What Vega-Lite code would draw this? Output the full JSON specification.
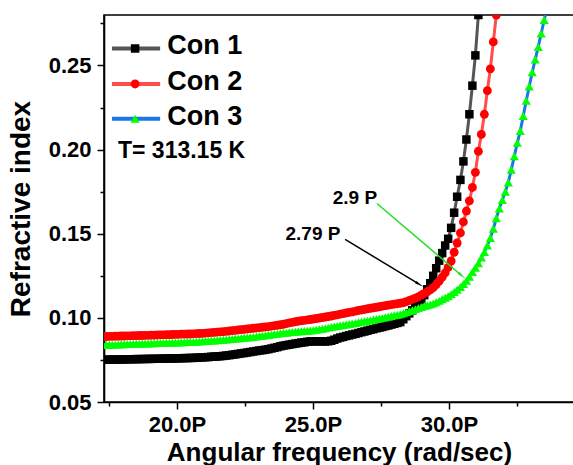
{
"$schema":"https://vega.github.io/schema/vega-lite/v6.json",
"width":470,"height":387,
"autosize":{"type":"none"},
"padding":{"left":104,"top":15,"right":0,"bottom":63},
"background":"white",
"config":{"view":{"stroke":"black","strokeWidth":1.6},"font":"Liberation Sans",
"axis":{"labelFont":"Liberation Sans","titleFont":"Liberation Sans","labelFontWeight":"bold","titleFontWeight":"bold","labelColor":"black","titleColor":"black","domainColor":"black","tickColor":"black","domainWidth":1.6,"tickWidth":1.5,"grid":false,"labelFontSize":22,"titleFontSize":28}},
"datasets":{
"curves":[
{"s":"Con 1","x":17.29,"y":0.0751},{"s":"Con 1","x":17.40,"y":0.0751},{"s":"Con 1","x":17.51,"y":0.0752},{"s":"Con 1","x":17.62,"y":0.0752},{"s":"Con 1","x":17.73,"y":0.0752},{"s":"Con 1","x":17.84,"y":0.0753},{"s":"Con 1","x":17.95,"y":0.0753},{"s":"Con 1","x":18.06,"y":0.0753},{"s":"Con 1","x":18.17,"y":0.0754},{"s":"Con 1","x":18.28,"y":0.0754},
{"s":"Con 1","x":18.39,"y":0.0754},{"s":"Con 1","x":18.50,"y":0.0755},{"s":"Con 1","x":18.61,"y":0.0755},{"s":"Con 1","x":18.72,"y":0.0755},{"s":"Con 1","x":18.83,"y":0.0756},{"s":"Con 1","x":18.94,"y":0.0756},{"s":"Con 1","x":19.05,"y":0.0756},{"s":"Con 1","x":19.16,"y":0.0757},{"s":"Con 1","x":19.28,"y":0.0757},{"s":"Con 1","x":19.39,"y":0.0757},
{"s":"Con 1","x":19.50,"y":0.0758},{"s":"Con 1","x":19.61,"y":0.0758},{"s":"Con 1","x":19.72,"y":0.0759},{"s":"Con 1","x":19.83,"y":0.0759},{"s":"Con 1","x":19.94,"y":0.0759},{"s":"Con 1","x":20.05,"y":0.076},{"s":"Con 1","x":20.16,"y":0.076},{"s":"Con 1","x":20.27,"y":0.0761},{"s":"Con 1","x":20.38,"y":0.0761},{"s":"Con 1","x":20.49,"y":0.0762},
{"s":"Con 1","x":20.60,"y":0.0762},{"s":"Con 1","x":20.71,"y":0.0763},{"s":"Con 1","x":20.82,"y":0.0764},{"s":"Con 1","x":20.93,"y":0.0765},{"s":"Con 1","x":21.04,"y":0.0766},{"s":"Con 1","x":21.15,"y":0.0767},{"s":"Con 1","x":21.26,"y":0.0769},{"s":"Con 1","x":21.37,"y":0.077},{"s":"Con 1","x":21.48,"y":0.0771},{"s":"Con 1","x":21.59,"y":0.0772},
{"s":"Con 1","x":21.70,"y":0.0774},{"s":"Con 1","x":21.81,"y":0.0776},{"s":"Con 1","x":21.92,"y":0.0778},{"s":"Con 1","x":22.03,"y":0.0781},{"s":"Con 1","x":22.14,"y":0.0783},{"s":"Con 1","x":22.25,"y":0.0786},{"s":"Con 1","x":22.36,"y":0.0789},{"s":"Con 1","x":22.47,"y":0.0791},{"s":"Con 1","x":22.58,"y":0.0794},{"s":"Con 1","x":22.69,"y":0.0797},
{"s":"Con 1","x":22.80,"y":0.08},{"s":"Con 1","x":22.92,"y":0.0803},{"s":"Con 1","x":23.03,"y":0.0806},{"s":"Con 1","x":23.14,"y":0.0808},{"s":"Con 1","x":23.25,"y":0.0811},{"s":"Con 1","x":23.36,"y":0.0814},{"s":"Con 1","x":23.47,"y":0.0818},{"s":"Con 1","x":23.58,"y":0.0822},{"s":"Con 1","x":23.69,"y":0.0826},{"s":"Con 1","x":23.80,"y":0.0831},
{"s":"Con 1","x":23.91,"y":0.0835},{"s":"Con 1","x":24.02,"y":0.0838},{"s":"Con 1","x":24.13,"y":0.0841},{"s":"Con 1","x":24.24,"y":0.0844},{"s":"Con 1","x":24.35,"y":0.0847},{"s":"Con 1","x":24.46,"y":0.085},{"s":"Con 1","x":24.57,"y":0.0853},{"s":"Con 1","x":24.68,"y":0.0855},{"s":"Con 1","x":24.79,"y":0.0858},{"s":"Con 1","x":24.90,"y":0.086},
{"s":"Con 1","x":25.01,"y":0.086},{"s":"Con 1","x":25.12,"y":0.0861},{"s":"Con 1","x":25.23,"y":0.0861},{"s":"Con 1","x":25.34,"y":0.086},{"s":"Con 1","x":25.45,"y":0.086},{"s":"Con 1","x":25.56,"y":0.0861},{"s":"Con 1","x":25.67,"y":0.0864},{"s":"Con 1","x":25.78,"y":0.087},{"s":"Con 1","x":25.89,"y":0.0877},{"s":"Con 1","x":26.00,"y":0.0883},
{"s":"Con 1","x":26.11,"y":0.0887},{"s":"Con 1","x":26.22,"y":0.0892},{"s":"Con 1","x":26.33,"y":0.0896},{"s":"Con 1","x":26.44,"y":0.0901},{"s":"Con 1","x":26.56,"y":0.0905},{"s":"Con 1","x":26.67,"y":0.091},{"s":"Con 1","x":26.78,"y":0.0915},{"s":"Con 1","x":26.89,"y":0.0919},{"s":"Con 1","x":27.00,"y":0.0924},{"s":"Con 1","x":27.11,"y":0.0929},
{"s":"Con 1","x":27.22,"y":0.0933},{"s":"Con 1","x":27.33,"y":0.0938},{"s":"Con 1","x":27.44,"y":0.0942},{"s":"Con 1","x":27.55,"y":0.0946},{"s":"Con 1","x":27.66,"y":0.0951},{"s":"Con 1","x":27.77,"y":0.0955},{"s":"Con 1","x":27.88,"y":0.096},{"s":"Con 1","x":27.99,"y":0.0965},{"s":"Con 1","x":28.10,"y":0.097},{"s":"Con 1","x":28.21,"y":0.0975},
{"s":"Con 1","x":28.32,"y":0.0992},{"s":"Con 1","x":28.43,"y":0.101},{"s":"Con 1","x":28.54,"y":0.1027},{"s":"Con 1","x":28.65,"y":0.1045},{"s":"Con 1","x":28.76,"y":0.1065},{"s":"Con 1","x":28.87,"y":0.1085},{"s":"Con 1","x":28.98,"y":0.1108},{"s":"Con 1","x":29.09,"y":0.1135},{"s":"Con 1","x":29.20,"y":0.117},{"s":"Con 1","x":29.31,"y":0.1206},
{"s":"Con 1","x":29.42,"y":0.125},{"s":"Con 1","x":29.53,"y":0.1295},{"s":"Con 1","x":29.64,"y":0.134},{"s":"Con 1","x":29.75,"y":0.1385},{"s":"Con 1","x":29.86,"y":0.143},{"s":"Con 1","x":29.97,"y":0.147},{"s":"Con 1","x":30.08,"y":0.1535},{"s":"Con 1","x":30.19,"y":0.1625},{"s":"Con 1","x":30.30,"y":0.172},{"s":"Con 1","x":30.42,"y":0.182},
{"s":"Con 1","x":30.53,"y":0.193},{"s":"Con 1","x":30.64,"y":0.206},{"s":"Con 1","x":30.75,"y":0.221},{"s":"Con 1","x":30.86,"y":0.238},{"s":"Con 1","x":30.97,"y":0.256},{"s":"Con 1","x":31.08,"y":0.28},
{"s":"Con 2","x":17.29,"y":0.0889},{"s":"Con 2","x":17.40,"y":0.0889},{"s":"Con 2","x":17.51,"y":0.089},{"s":"Con 2","x":17.62,"y":0.089},{"s":"Con 2","x":17.73,"y":0.0891},{"s":"Con 2","x":17.84,"y":0.0891},{"s":"Con 2","x":17.95,"y":0.0892},{"s":"Con 2","x":18.06,"y":0.0892},{"s":"Con 2","x":18.17,"y":0.0893},{"s":"Con 2","x":18.28,"y":0.0893},
{"s":"Con 2","x":18.39,"y":0.0894},{"s":"Con 2","x":18.50,"y":0.0894},{"s":"Con 2","x":18.61,"y":0.0895},{"s":"Con 2","x":18.72,"y":0.0895},{"s":"Con 2","x":18.83,"y":0.0896},{"s":"Con 2","x":18.94,"y":0.0896},{"s":"Con 2","x":19.05,"y":0.0897},{"s":"Con 2","x":19.16,"y":0.0897},{"s":"Con 2","x":19.28,"y":0.0898},{"s":"Con 2","x":19.39,"y":0.0899},
{"s":"Con 2","x":19.50,"y":0.0899},{"s":"Con 2","x":19.61,"y":0.09},{"s":"Con 2","x":19.72,"y":0.09},{"s":"Con 2","x":19.83,"y":0.0901},{"s":"Con 2","x":19.94,"y":0.0902},{"s":"Con 2","x":20.05,"y":0.0902},{"s":"Con 2","x":20.16,"y":0.0903},{"s":"Con 2","x":20.27,"y":0.0903},{"s":"Con 2","x":20.38,"y":0.0904},{"s":"Con 2","x":20.49,"y":0.0904},
{"s":"Con 2","x":20.60,"y":0.0905},{"s":"Con 2","x":20.71,"y":0.0906},{"s":"Con 2","x":20.82,"y":0.0907},{"s":"Con 2","x":20.93,"y":0.0908},{"s":"Con 2","x":21.04,"y":0.0909},{"s":"Con 2","x":21.15,"y":0.0911},{"s":"Con 2","x":21.26,"y":0.0912},{"s":"Con 2","x":21.37,"y":0.0914},{"s":"Con 2","x":21.48,"y":0.0915},{"s":"Con 2","x":21.59,"y":0.0917},
{"s":"Con 2","x":21.70,"y":0.0918},{"s":"Con 2","x":21.81,"y":0.092},{"s":"Con 2","x":21.92,"y":0.0922},{"s":"Con 2","x":22.03,"y":0.0924},{"s":"Con 2","x":22.14,"y":0.0926},{"s":"Con 2","x":22.25,"y":0.0928},{"s":"Con 2","x":22.36,"y":0.093},{"s":"Con 2","x":22.47,"y":0.0932},{"s":"Con 2","x":22.58,"y":0.0934},{"s":"Con 2","x":22.69,"y":0.0936},
{"s":"Con 2","x":22.80,"y":0.0938},{"s":"Con 2","x":22.92,"y":0.094},{"s":"Con 2","x":23.03,"y":0.0942},{"s":"Con 2","x":23.14,"y":0.0944},{"s":"Con 2","x":23.25,"y":0.0946},{"s":"Con 2","x":23.36,"y":0.0948},{"s":"Con 2","x":23.47,"y":0.0951},{"s":"Con 2","x":23.58,"y":0.0954},{"s":"Con 2","x":23.69,"y":0.0956},{"s":"Con 2","x":23.80,"y":0.0959},
{"s":"Con 2","x":23.91,"y":0.0962},{"s":"Con 2","x":24.02,"y":0.0966},{"s":"Con 2","x":24.13,"y":0.097},{"s":"Con 2","x":24.24,"y":0.0973},{"s":"Con 2","x":24.35,"y":0.0977},{"s":"Con 2","x":24.46,"y":0.098},{"s":"Con 2","x":24.57,"y":0.0983},{"s":"Con 2","x":24.68,"y":0.0985},{"s":"Con 2","x":24.79,"y":0.0988},{"s":"Con 2","x":24.90,"y":0.099},
{"s":"Con 2","x":25.01,"y":0.0993},{"s":"Con 2","x":25.12,"y":0.0996},{"s":"Con 2","x":25.23,"y":0.0999},{"s":"Con 2","x":25.34,"y":0.1002},{"s":"Con 2","x":25.45,"y":0.1005},{"s":"Con 2","x":25.56,"y":0.1008},{"s":"Con 2","x":25.67,"y":0.1011},{"s":"Con 2","x":25.78,"y":0.1015},{"s":"Con 2","x":25.89,"y":0.1018},{"s":"Con 2","x":26.00,"y":0.1022},
{"s":"Con 2","x":26.11,"y":0.1025},{"s":"Con 2","x":26.22,"y":0.1029},{"s":"Con 2","x":26.33,"y":0.1033},{"s":"Con 2","x":26.44,"y":0.1036},{"s":"Con 2","x":26.56,"y":0.104},{"s":"Con 2","x":26.67,"y":0.1044},{"s":"Con 2","x":26.78,"y":0.1047},{"s":"Con 2","x":26.89,"y":0.105},{"s":"Con 2","x":27.00,"y":0.1054},{"s":"Con 2","x":27.11,"y":0.1057},
{"s":"Con 2","x":27.22,"y":0.106},{"s":"Con 2","x":27.33,"y":0.1063},{"s":"Con 2","x":27.44,"y":0.1066},{"s":"Con 2","x":27.55,"y":0.107},{"s":"Con 2","x":27.66,"y":0.1073},{"s":"Con 2","x":27.77,"y":0.1076},{"s":"Con 2","x":27.88,"y":0.1079},{"s":"Con 2","x":27.99,"y":0.1082},{"s":"Con 2","x":28.10,"y":0.1084},{"s":"Con 2","x":28.21,"y":0.1087},
{"s":"Con 2","x":28.32,"y":0.109},{"s":"Con 2","x":28.43,"y":0.1096},{"s":"Con 2","x":28.54,"y":0.1103},{"s":"Con 2","x":28.65,"y":0.111},{"s":"Con 2","x":28.76,"y":0.1117},{"s":"Con 2","x":28.87,"y":0.1125},{"s":"Con 2","x":28.98,"y":0.1135},{"s":"Con 2","x":29.09,"y":0.1145},{"s":"Con 2","x":29.20,"y":0.1155},{"s":"Con 2","x":29.31,"y":0.1166},
{"s":"Con 2","x":29.42,"y":0.118},{"s":"Con 2","x":29.53,"y":0.1198},{"s":"Con 2","x":29.64,"y":0.1218},{"s":"Con 2","x":29.75,"y":0.1242},{"s":"Con 2","x":29.86,"y":0.1268},{"s":"Con 2","x":29.97,"y":0.13},{"s":"Con 2","x":30.08,"y":0.1338},{"s":"Con 2","x":30.19,"y":0.139},{"s":"Con 2","x":30.30,"y":0.1445},{"s":"Con 2","x":30.42,"y":0.1505},
{"s":"Con 2","x":30.53,"y":0.157},{"s":"Con 2","x":30.64,"y":0.1635},{"s":"Con 2","x":30.75,"y":0.1695},{"s":"Con 2","x":30.86,"y":0.1775},{"s":"Con 2","x":30.97,"y":0.1865},{"s":"Con 2","x":31.08,"y":0.199},{"s":"Con 2","x":31.19,"y":0.209},{"s":"Con 2","x":31.30,"y":0.221},{"s":"Con 2","x":31.41,"y":0.235},{"s":"Con 2","x":31.52,"y":0.248},
{"s":"Con 2","x":31.63,"y":0.264},{"s":"Con 2","x":31.74,"y":0.28},
{"s":"Con 3","x":17.29,"y":0.0839},{"s":"Con 3","x":17.40,"y":0.084},{"s":"Con 3","x":17.51,"y":0.084},{"s":"Con 3","x":17.62,"y":0.0841},{"s":"Con 3","x":17.73,"y":0.0841},{"s":"Con 3","x":17.84,"y":0.0842},{"s":"Con 3","x":17.95,"y":0.0843},{"s":"Con 3","x":18.06,"y":0.0843},{"s":"Con 3","x":18.17,"y":0.0844},{"s":"Con 3","x":18.28,"y":0.0844},
{"s":"Con 3","x":18.39,"y":0.0845},{"s":"Con 3","x":18.50,"y":0.0846},{"s":"Con 3","x":18.61,"y":0.0846},{"s":"Con 3","x":18.72,"y":0.0847},{"s":"Con 3","x":18.83,"y":0.0847},{"s":"Con 3","x":18.94,"y":0.0848},{"s":"Con 3","x":19.05,"y":0.0849},{"s":"Con 3","x":19.16,"y":0.0849},{"s":"Con 3","x":19.28,"y":0.085},{"s":"Con 3","x":19.39,"y":0.085},
{"s":"Con 3","x":19.50,"y":0.0851},{"s":"Con 3","x":19.61,"y":0.0852},{"s":"Con 3","x":19.72,"y":0.0852},{"s":"Con 3","x":19.83,"y":0.0853},{"s":"Con 3","x":19.94,"y":0.0853},{"s":"Con 3","x":20.05,"y":0.0854},{"s":"Con 3","x":20.16,"y":0.0855},{"s":"Con 3","x":20.27,"y":0.0855},{"s":"Con 3","x":20.38,"y":0.0856},{"s":"Con 3","x":20.49,"y":0.0856},
{"s":"Con 3","x":20.60,"y":0.0857},{"s":"Con 3","x":20.71,"y":0.0858},{"s":"Con 3","x":20.82,"y":0.0859},{"s":"Con 3","x":20.93,"y":0.0861},{"s":"Con 3","x":21.04,"y":0.0862},{"s":"Con 3","x":21.15,"y":0.0863},{"s":"Con 3","x":21.26,"y":0.0865},{"s":"Con 3","x":21.37,"y":0.0866},{"s":"Con 3","x":21.48,"y":0.0867},{"s":"Con 3","x":21.59,"y":0.0869},
{"s":"Con 3","x":21.70,"y":0.087},{"s":"Con 3","x":21.81,"y":0.0872},{"s":"Con 3","x":21.92,"y":0.0873},{"s":"Con 3","x":22.03,"y":0.0875},{"s":"Con 3","x":22.14,"y":0.0877},{"s":"Con 3","x":22.25,"y":0.0878},{"s":"Con 3","x":22.36,"y":0.088},{"s":"Con 3","x":22.47,"y":0.0882},{"s":"Con 3","x":22.58,"y":0.0884},{"s":"Con 3","x":22.69,"y":0.0885},
{"s":"Con 3","x":22.80,"y":0.0887},{"s":"Con 3","x":22.92,"y":0.0889},{"s":"Con 3","x":23.03,"y":0.0892},{"s":"Con 3","x":23.14,"y":0.0894},{"s":"Con 3","x":23.25,"y":0.0896},{"s":"Con 3","x":23.36,"y":0.0899},{"s":"Con 3","x":23.47,"y":0.0901},{"s":"Con 3","x":23.58,"y":0.0904},{"s":"Con 3","x":23.69,"y":0.0906},{"s":"Con 3","x":23.80,"y":0.0909},
{"s":"Con 3","x":23.91,"y":0.0911},{"s":"Con 3","x":24.02,"y":0.0912},{"s":"Con 3","x":24.13,"y":0.0914},{"s":"Con 3","x":24.24,"y":0.0916},{"s":"Con 3","x":24.35,"y":0.0917},{"s":"Con 3","x":24.46,"y":0.0919},{"s":"Con 3","x":24.57,"y":0.092},{"s":"Con 3","x":24.68,"y":0.0922},{"s":"Con 3","x":24.79,"y":0.0924},{"s":"Con 3","x":24.90,"y":0.0925},
{"s":"Con 3","x":25.01,"y":0.0927},{"s":"Con 3","x":25.12,"y":0.093},{"s":"Con 3","x":25.23,"y":0.0933},{"s":"Con 3","x":25.34,"y":0.0936},{"s":"Con 3","x":25.45,"y":0.0939},{"s":"Con 3","x":25.56,"y":0.0942},{"s":"Con 3","x":25.67,"y":0.0946},{"s":"Con 3","x":25.78,"y":0.0949},{"s":"Con 3","x":25.89,"y":0.0952},{"s":"Con 3","x":26.00,"y":0.0955},
{"s":"Con 3","x":26.11,"y":0.0958},{"s":"Con 3","x":26.22,"y":0.0961},{"s":"Con 3","x":26.33,"y":0.0964},{"s":"Con 3","x":26.44,"y":0.0967},{"s":"Con 3","x":26.56,"y":0.097},{"s":"Con 3","x":26.67,"y":0.0974},{"s":"Con 3","x":26.78,"y":0.0977},{"s":"Con 3","x":26.89,"y":0.098},{"s":"Con 3","x":27.00,"y":0.0983},{"s":"Con 3","x":27.11,"y":0.0986},
{"s":"Con 3","x":27.22,"y":0.099},{"s":"Con 3","x":27.33,"y":0.0993},{"s":"Con 3","x":27.44,"y":0.0996},{"s":"Con 3","x":27.55,"y":0.1},{"s":"Con 3","x":27.66,"y":0.1004},{"s":"Con 3","x":27.77,"y":0.1007},{"s":"Con 3","x":27.88,"y":0.1011},{"s":"Con 3","x":27.99,"y":0.1015},{"s":"Con 3","x":28.10,"y":0.1018},{"s":"Con 3","x":28.21,"y":0.1022},
{"s":"Con 3","x":28.32,"y":0.1028},{"s":"Con 3","x":28.43,"y":0.1034},{"s":"Con 3","x":28.54,"y":0.104},{"s":"Con 3","x":28.65,"y":0.1046},{"s":"Con 3","x":28.76,"y":0.1052},{"s":"Con 3","x":28.87,"y":0.1058},{"s":"Con 3","x":28.98,"y":0.1064},{"s":"Con 3","x":29.09,"y":0.107},{"s":"Con 3","x":29.20,"y":0.1075},{"s":"Con 3","x":29.31,"y":0.108},
{"s":"Con 3","x":29.42,"y":0.1085},{"s":"Con 3","x":29.53,"y":0.1093},{"s":"Con 3","x":29.64,"y":0.1101},{"s":"Con 3","x":29.75,"y":0.111},{"s":"Con 3","x":29.86,"y":0.1119},{"s":"Con 3","x":29.97,"y":0.1129},{"s":"Con 3","x":30.08,"y":0.1141},{"s":"Con 3","x":30.19,"y":0.1154},{"s":"Con 3","x":30.30,"y":0.1167},{"s":"Con 3","x":30.42,"y":0.1183},
{"s":"Con 3","x":30.53,"y":0.1201},{"s":"Con 3","x":30.64,"y":0.1221},{"s":"Con 3","x":30.75,"y":0.1245},{"s":"Con 3","x":30.86,"y":0.1272},{"s":"Con 3","x":30.97,"y":0.1298},{"s":"Con 3","x":31.08,"y":0.1325},{"s":"Con 3","x":31.19,"y":0.1358},{"s":"Con 3","x":31.30,"y":0.1392},{"s":"Con 3","x":31.41,"y":0.143},{"s":"Con 3","x":31.52,"y":0.1475},
{"s":"Con 3","x":31.63,"y":0.153},{"s":"Con 3","x":31.74,"y":0.1592},{"s":"Con 3","x":31.85,"y":0.165},{"s":"Con 3","x":31.96,"y":0.17},{"s":"Con 3","x":32.07,"y":0.175},{"s":"Con 3","x":32.18,"y":0.1805},{"s":"Con 3","x":32.29,"y":0.188},{"s":"Con 3","x":32.40,"y":0.196},{"s":"Con 3","x":32.51,"y":0.204},{"s":"Con 3","x":32.62,"y":0.211},
{"s":"Con 3","x":32.73,"y":0.22},{"s":"Con 3","x":32.84,"y":0.229},{"s":"Con 3","x":32.95,"y":0.2375},{"s":"Con 3","x":33.06,"y":0.246},{"s":"Con 3","x":33.17,"y":0.2535},{"s":"Con 3","x":33.28,"y":0.261},{"s":"Con 3","x":33.39,"y":0.269},{"s":"Con 3","x":33.50,"y":0.277},{"s":"Con 3","x":33.61,"y":0.285}
],
"arrows":[{"id":"a1","x":26.18,"y":0.1467,"x2":28.87,"y2":0.1203},{"id":"a2","x":27.35,"y":0.168,"x2":30.44,"y2":0.1255}],
"heads":[{"id":"a1","x":28.87,"y":0.1203},{"id":"a2","x":30.44,"y":0.1255}],
"notes":[{"t":"2.79 P","x":25.0,"y":0.1496},{"t":"2.9 P","x":26.54,"y":0.171}],
"temp":[{"t":"T= 313.15 K","x":17.83,"y":0.1994}],
"legline":[{"s":"Con 1","x":17.61,"x2":19.38,"y":0.2601},{"s":"Con 2","x":17.61,"x2":19.38,"y":0.239},{"s":"Con 3","x":17.61,"x2":19.38,"y":0.2183}],
"legmark":[{"s":"Con 1","x":18.46,"y":0.2601},{"s":"Con 2","x":18.46,"y":0.239},{"s":"Con 3","x":18.46,"y":0.2183}],
"legtext":[{"s":"Con 1","x":19.64,"y":0.2601},{"s":"Con 2","x":19.64,"y":0.239},{"s":"Con 3","x":19.64,"y":0.2183}]
},
"encoding":{
"x":{"field":"x","type":"quantitative","scale":{"domain":[17.316,34.596],"nice":false,"zero":false},
"axis":{"title":"Angular frequency (rad/sec)","values":[17.5,20,22.5,25,27.5,30,32.5],"labelExpr":"datum.value % 5 == 0 ? format(datum.value, '.1f') + 'P' : ''","tickSize":{"condition":{"test":"datum.value % 5 == 0","value":7},"value":4},"labelPadding":5,"titlePadding":4,"titleFontSize":26,"labelFlush":false}},
"y":{"field":"y","type":"quantitative","scale":{"domain":[0.05,0.28],"nice":false,"zero":false},
"axis":{"title":"Refractive index","values":[0.05,0.075,0.1,0.125,0.15,0.175,0.2,0.225,0.25,0.275],"labelExpr":"abs(datum.value*20 - round(datum.value*20)) < 0.000001 ? format(datum.value, '.2f') : ''","tickSize":{"condition":{"test":"abs(datum.value*20 - round(datum.value*20)) < 0.000001","value":7},"value":4},"labelPadding":6,"titlePadding":13,"labelFlush":false}}
},
"layer":[
{"data":{"name":"curves"},"mark":{"type":"line","strokeWidth":3,"clip":true},
 "encoding":{"stroke":{"field":"s","type":"nominal","scale":{"domain":["Con 1","Con 2","Con 3"],"range":["#555555","#ff4d4d","#1a78e6"]},"legend":null}}},
{"data":{"name":"curves"},"mark":{"type":"point","filled":true,"opacity":1,"strokeWidth":0,"clip":true},
 "encoding":{"fill":{"field":"s","type":"nominal","scale":{"domain":["Con 1","Con 2","Con 3"],"range":["#000000","#ff0000","#00ff00"]},"legend":null},
 "shape":{"field":"s","type":"nominal","scale":{"domain":["Con 1","Con 2","Con 3"],"range":["square","circle","triangle-up"]},"legend":null},
 "size":{"field":"s","type":"nominal","scale":{"domain":["Con 1","Con 2","Con 3"],"range":[72,85,125]},"legend":null}}},
{"data":{"name":"arrows"},"transform":[{"filter":"datum.id == 'a1'"}],"mark":{"type":"rule","color":"black","strokeWidth":1.5},
 "encoding":{"x2":{"field":"x2"},"y2":{"field":"y2"}}},
{"data":{"name":"arrows"},"transform":[{"filter":"datum.id == 'a2'"}],"mark":{"type":"rule","color":"#22dd22","strokeWidth":1.5},
 "encoding":{"x2":{"field":"x2"},"y2":{"field":"y2"}}},
{"data":{"name":"heads"},"transform":[{"filter":"datum.id == 'a1'"}],"mark":{"type":"point","shape":"wedge","filled":true,"color":"black","size":110,"angle":121,"opacity":1},"encoding":{}},
{"data":{"name":"heads"},"transform":[{"filter":"datum.id == 'a2'"}],"mark":{"type":"point","shape":"wedge","filled":true,"color":"#22dd22","size":110,"angle":130,"opacity":1},"encoding":{}},
{"data":{"name":"notes"},"mark":{"type":"text","font":"Liberation Sans","fontWeight":"bold","fontSize":19,"color":"black","align":"center","baseline":"middle"},
 "encoding":{"text":{"field":"t"}}},
{"data":{"name":"temp"},"mark":{"type":"text","font":"Liberation Sans","fontWeight":"bold","fontSize":23,"color":"black","align":"left","baseline":"middle"},
 "encoding":{"text":{"field":"t"}}},
{"data":{"name":"legline"},"mark":{"type":"rule","strokeWidth":4},
 "encoding":{"x2":{"field":"x2"},"stroke":{"field":"s","type":"nominal","legend":null}}},
{"data":{"name":"legmark"},"mark":{"type":"point","filled":true,"opacity":1,"strokeWidth":0},
 "encoding":{"fill":{"field":"s","type":"nominal","legend":null},"shape":{"field":"s","type":"nominal","legend":null},"size":{"field":"s","type":"nominal","legend":null}}},
{"data":{"name":"legtext"},"mark":{"type":"text","font":"Liberation Sans","fontWeight":"bold","fontSize":27,"color":"black","align":"left","baseline":"middle","dy":-2},
 "encoding":{"text":{"field":"s"}}}
]
}
